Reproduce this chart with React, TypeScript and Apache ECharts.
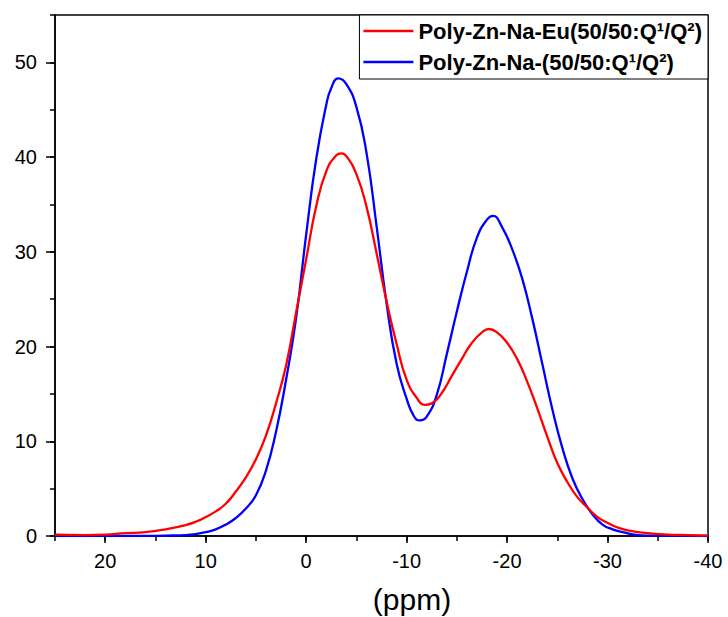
import React, { useEffect, useRef } from "react";
import * as echarts from "echarts";

const redName = "Poly-Zn-Na-Eu(50/50:Q¹/Q²)";
const blueName = "Poly-Zn-Na-(50/50:Q¹/Q²)";

const redX = [25, 22, 20, 18, 16, 14, 12, 11, 10, 9, 8, 7, 6, 5, 4, 3, 2, 1, 0, -1, -2, -3, -3.5, -4, -5, -6, -7, -8, -9, -10, -11, -11.8, -12.5, -13.5, -14.5, -15.5, -16.5, -17.5, -18.2, -19, -20, -21, -22, -23, -24, -25, -26, -27, -28, -29, -30, -31, -32, -34, -36, -38, -40];
const redY = [0.15, 0.1, 0.15, 0.3, 0.4, 0.7, 1.15, 1.5, 2.0, 2.6, 3.4, 4.7, 6.2, 8.1, 10.6, 14.0, 18.0, 23.6, 29.2, 34.8, 38.5, 40.2, 40.4, 40.1, 38.2, 34.8, 29.9, 24.8, 20.3, 16.5, 14.6, 13.85, 14.0, 15.1, 16.9, 18.7, 20.4, 21.5, 21.85, 21.5, 20.4, 18.7, 16.3, 13.5, 10.5, 7.7, 5.7, 4.1, 3.0, 2.0, 1.4, 0.9, 0.6, 0.3, 0.15, 0.1, 0.05];

const blueX = [25, 20, 16, 14, 12, 11, 10, 9, 8, 7, 6, 5, 4, 3, 2, 1, 0, -1, -2, -2.5, -3.2, -4, -5, -6, -7, -8, -9, -10, -10.7, -11.3, -12, -13, -14, -15, -16, -17, -18, -18.6, -19.5, -20.5, -21.5, -22.5, -23.5, -24.5, -25.5, -26.5, -27.5, -28.5, -29.5, -30.5, -31.5, -33, -35, -40];
const blueY = [0, 0, 0, 0.05, 0.1, 0.2, 0.4, 0.7, 1.2, 1.9, 2.9, 4.3, 6.9, 11.0, 16.5, 23.0, 31.8, 39.8, 45.5, 47.3, 48.3, 47.7, 45.3, 40.5, 32.8, 24.6, 18.2, 14.5, 12.7, 12.2, 12.6, 14.9, 19.2, 23.7, 27.9, 31.5, 33.4, 33.8, 32.6, 30.3, 27.2, 23.0, 18.2, 13.4, 9.3, 6.1, 3.9, 2.3, 1.2, 0.7, 0.4, 0.1, 0.03, 0];

const xMajorTicks = [20, 10, 0, -10, -20, -30, -40];
const yMajorTicks = [0, 10, 20, 30, 40, 50];
const xTitle = "(ppm)";

const FONT = 'Arial, "Liberation Sans", sans-serif';

export default function App() {
  const ref = useRef<HTMLDivElement>(null);
  useEffect(() => {
    document.body.style.margin = "0";
    const chart = echarts.init(ref.current!, null, { renderer: "svg" });
    const pairs = (xs: number[], ys: number[]) => xs.map((x, i) => [x, ys[i]]);
    const axisLineStyle = { color: "#000", width: 1.5 };
    chart.setOption({
      animation: false,
      backgroundColor: "#fff",
      grid: {
        left: 55,
        right: 20,
        top: 15,
        bottom: 81,
        show: true,
        borderColor: "#000",
        borderWidth: 1.5,
        backgroundColor: "transparent",
      },
      legend: {
        orient: "vertical",
        right: 20,
        top: 15,
        padding: [5, 6, 6, 4],
        icon: "rect",
        itemWidth: 50,
        itemHeight: 2.5,
        itemGap: 9,
        borderColor: "#000",
        borderWidth: 1,
        backgroundColor: "#fff",
        textStyle: { fontFamily: FONT, fontWeight: "bold", fontSize: 22, color: "#000" },
        data: [redName, blueName],
      },
      xAxis: [
        {
          type: "value",
          min: -40,
          max: 25,
          inverse: true,
          position: "bottom",
          axisLine: { show: true, onZero: false, lineStyle: axisLineStyle },
          axisTick: { show: true, length: 7, lineStyle: axisLineStyle, customValues: xMajorTicks },
          axisLabel: { fontFamily: FONT, fontSize: 20, color: "#000", margin: 15, customValues: xMajorTicks },
          splitLine: { show: false },
        },
        {
          type: "value",
          min: -40,
          max: 25,
          interval: 5,
          inverse: true,
          position: "bottom",
          axisLine: { show: false, onZero: false },
          axisTick: { show: true, length: 5, lineStyle: axisLineStyle },
          axisLabel: { show: false },
          splitLine: { show: false },
        },
      ],
      yAxis: [
        {
          type: "value",
          min: 0,
          max: 55,
          position: "left",
          axisLine: { show: true, onZero: false, lineStyle: axisLineStyle },
          axisTick: { show: true, length: 9, lineStyle: axisLineStyle, customValues: yMajorTicks },
          axisLabel: { fontFamily: FONT, fontSize: 20, color: "#000", margin: 18, customValues: yMajorTicks },
          splitLine: { show: false },
        },
        {
          type: "value",
          min: 0,
          max: 55,
          interval: 5,
          position: "left",
          axisLine: { show: false, onZero: false },
          axisTick: { show: true, length: 5, lineStyle: axisLineStyle },
          axisLabel: { show: false },
          splitLine: { show: false },
        },
      ],
      graphic: [
        {
          type: "text",
          x: 412,
          y: 599,
          style: {
            text: xTitle,
            font: `30px ${FONT}`,
            fill: "#000",
            textAlign: "center",
            textVerticalAlign: "middle",
          },
        },
      ],
      series: [
        {
          name: redName,
          type: "line",
          xAxisIndex: 0,
          yAxisIndex: 0,
          data: pairs(redX, redY),
          symbol: "none",
          showSymbol: false,
          smooth: 0.5,
          lineStyle: { color: "#ff0000", width: 2.3 },
          itemStyle: { color: "#ff0000" },
          z: 3,
        },
        {
          name: blueName,
          type: "line",
          xAxisIndex: 0,
          yAxisIndex: 0,
          data: pairs(blueX, blueY),
          symbol: "none",
          showSymbol: false,
          smooth: 0.5,
          lineStyle: { color: "#0000ff", width: 2.3 },
          itemStyle: { color: "#0000ff" },
          z: 2,
        },
      ],
    });
    return () => chart.dispose();
  }, []);
  return <div ref={ref} style={{ width: 728, height: 617 }} />;
}
